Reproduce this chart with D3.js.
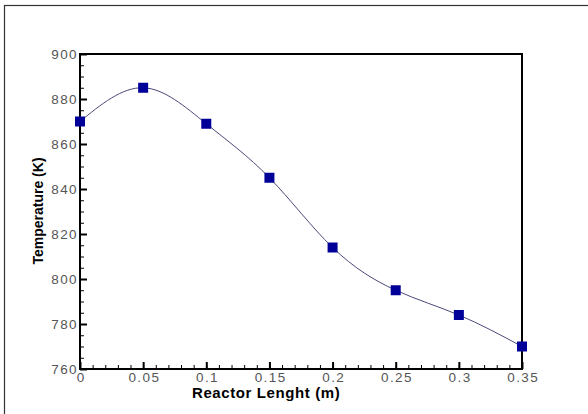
<!DOCTYPE html>
<html>
<head>
<meta charset="utf-8">
<script src="https://cdn.jsdelivr.net/npm/d3@7"></script>
<style>
  body { margin: 0; background: #fff; }
  .tick text { font-family: "Liberation Sans", Arial, sans-serif; font-size: 13.5px; letter-spacing: 1.4px; fill: #555; }
</style>
</head>
<body>
<div id="chart"></div>
<script>
// data
var lengths = [0, 0.05, 0.1, 0.15, 0.2, 0.25, 0.3, 0.35];
var temperatures = [870, 885, 869, 845, 814, 795, 784, 770];
var xTicks = [0, 0.05, 0.1, 0.15, 0.2, 0.25, 0.3, 0.35];
var yTicks = [760, 780, 800, 820, 840, 860, 880, 900];

var W = 588, H = 414;
var margin = { top: 54, right: 66, bottom: 45, left: 80 },
  width = W - margin.left - margin.right,
  height = H - margin.top - margin.bottom;

var root = d3.select("#chart").append("svg")
  .attr("width", W)
  .attr("height", H);

// outer frame
root.append("rect")
  .attr("x", 4.5).attr("y", 5.5)
  .attr("width", W + 10).attr("height", H - 4)
  .attr("fill", "none")
  .attr("stroke", "#333")
  .attr("stroke-width", 1.2);

var svg = root.append("g")
  .attr("transform", "translate(" + margin.left + "," + margin.top + ")");

var x = d3.scaleLinear().domain([0, 0.35]).range([0, width]);
var y = d3.scaleLinear().domain([760, 900]).range([height, 0]);

// minor ticks
svg.append("g")
  .attr("transform", "translate(0," + height + ")")
  .call(d3.axisBottom(x).tickValues(d3.range(0, 0.3501, 0.01)).tickSize(-4).tickFormat(""))
  .call(function (g) { g.select(".domain").remove(); });
svg.append("g")
  .call(d3.axisLeft(y).tickValues(d3.range(760, 901, 5)).tickSize(-4).tickFormat(""))
  .call(function (g) { g.select(".domain").remove(); });

// major ticks + labels
var gx = svg.append("g")
  .attr("transform", "translate(0," + height + ")")
  .call(d3.axisBottom(x).tickValues(xTicks).tickSize(-7).tickPadding(3)
    .tickFormat(function (d) { return d3.format("")(+d.toFixed(2)); }))
  .call(function (g) { g.select(".domain").remove(); });
gx.selectAll("line").attr("stroke-width", 2);
gx.selectAll("text").attr("dx", "0.7px");

var gy = svg.append("g")
  .call(d3.axisLeft(y).tickValues(yTicks).tickSize(-7).tickPadding(2))
  .call(function (g) { g.select(".domain").remove(); });
gy.selectAll("line").attr("stroke-width", 2);

// plot box
svg.append("rect")
  .attr("width", width).attr("height", height)
  .attr("fill", "none")
  .attr("stroke", "#000")
  .attr("stroke-width", 2);

// curve
var pts = lengths.map(function (d, i) { return [d, temperatures[i]]; });
var line = d3.line()
  .x(function (d) { return x(d[0]); })
  .y(function (d) { return y(d[1]); })
  .curve(d3.curveNatural);

svg.append("path")
  .datum(pts)
  .attr("d", line)
  .attr("fill", "none")
  .attr("stroke", "#4a4a7a")
  .attr("stroke-width", 1);

// markers
svg.selectAll("rect.pt")
  .data(pts)
  .enter()
  .append("rect")
  .attr("class", "pt")
  .attr("x", function (d) { return x(d[0]) - 5; })
  .attr("y", function (d) { return y(d[1]) - 5; })
  .attr("width", 10)
  .attr("height", 10)
  .attr("fill", "#000099");

// axis titles
root.append("text")
  .attr("x", 192).attr("y", 398)
  .attr("font-family", "Liberation Sans, Arial, sans-serif")
  .attr("font-weight", "bold")
  .attr("font-size", 15)
  .attr("letter-spacing", "0.6px")
  .text("Reactor Lenght (m)");

root.append("text")
  .attr("transform", "translate(43,211) rotate(-90)")
  .attr("text-anchor", "middle")
  .attr("font-family", "Liberation Sans, Arial, sans-serif")
  .attr("font-weight", "bold")
  .attr("font-size", 14)
  .text("Temperature (K)");
</script>
</body>
</html>
